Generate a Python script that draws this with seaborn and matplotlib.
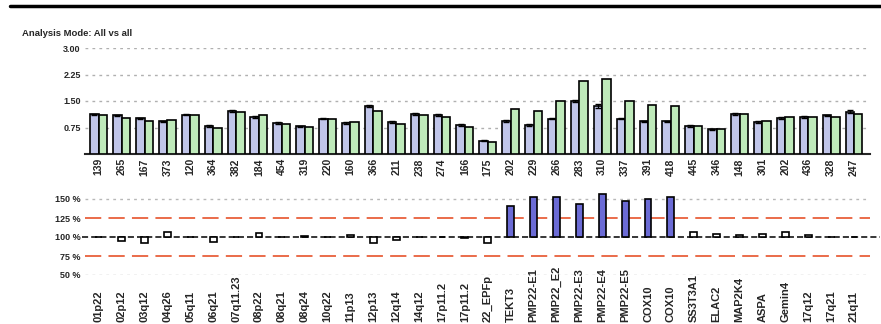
import pandas as pd
import seaborn as sns
import matplotlib.pyplot as plt
import matplotlib.transforms as mtransforms
from matplotlib.lines import Line2D

# painel superior: razoes por amostra (duas series)
amostras = ["139", "265", "167", "373", "120", "364", "382", "184", "454", "319",
            "220", "160", "366", "211", "238", "274", "166", "175", "202", "229",
            "266", "283", "310", "337", "391", "418", "445", "346", "148", "301",
            "202", "436", "328", "247"]
razao_azul = [1.12, 1.09, 1.01, 0.92, 1.11, 0.79, 1.22, 1.05, 0.88, 0.78,
              1.00, 0.88, 1.36, 0.90, 1.13, 1.10, 0.82, 0.38, 0.93, 0.82,
              1.00, 1.50, 1.36, 1.00, 0.92, 0.92, 0.79, 0.70, 1.13, 0.91,
              1.03, 1.05, 1.09, 1.20]
razao_verde = [1.11, 1.01, 0.92, 0.97, 1.09, 0.75, 1.20, 1.10, 0.86, 0.76,
               1.00, 0.90, 1.23, 0.85, 1.10, 1.06, 0.77, 0.35, 1.27, 1.23,
               1.51, 2.08, 2.12, 1.49, 1.40, 1.35, 0.80, 0.71, 1.13, 0.92,
               1.05, 1.05, 1.05, 1.13]
erro_azul = [0.02, 0.02, 0.02, 0.02, 0.02, 0.02, 0.02, 0.02, 0.02, 0.02,
             0.02, 0.02, 0.04, 0.02, 0.02, 0.02, 0.02, 0.02, 0.02, 0.02,
             0.02, 0.04, 0.06, 0.02, 0.02, 0.02, 0.02, 0.02, 0.02, 0.02,
             0.03, 0.02, 0.02, 0.04]

# painel inferior: dosagem relativa por regiao (%)
regioes = ["01p22", "02p12", "03q12", "04q26", "05q11", "06q21", "07q11.23", "08p22",
           "08q21", "08q24", "10q22", "11p13", "12p13", "12q14", "14q12", "17p11.2",
           "17p11.2", "22_EPFp", "TEKT3", "PMP22-E1", "PMP22_E2", "PMP22-E3",
           "PMP22-E4", "PMP22-E5", "COX10", "COX10", "SS3T3A1", "ELAC2", "MAP2K4",
           "ASPA", "Gemin4", "17q12", "17q21", "21q11"]
dosagem = [100, 95, 92, 107, 100, 94, 100, 105, 100, 101,
           100, 103, 92, 96, 100, 100, 99, 92, 141, 153,
           153, 144, 156, 148, 150, 153, 106, 104, 102, 104,
           106, 102, 100, 100]

sns.set_style("white")
plt.rcParams['font.family'] = ['Liberation Sans', 'DejaVu Sans']

W, H = 881, 324
fig = plt.figure(figsize=(W / 100, H / 100), dpi=100)
fig.patch.set_facecolor('white')
ax1 = fig.add_axes([85 / W, 1 - 154 / H, 785 / W, 106 / H])
ax2 = fig.add_axes([85 / W, 1 - 275 / H, 785 / W, 83.6 / H])

# --- painel superior ---
n = len(amostras)
df_sup = pd.DataFrame({
    'pos': list(range(n)) * 2,
    'serie': ['azul'] * n + ['verde'] * n,
    'razao': razao_azul + razao_verde,
})
sns.barplot(data=df_sup, x='pos', y='razao', hue='serie', ax=ax1,
            palette={'azul': '#b9c0f0', 'verde': '#b8f2b2'},
            width=0.74, edgecolor='black', linewidth=1.2,
            errorbar=None, legend=False, zorder=3)
for barra, err in zip(ax1.containers[0], erro_azul):
    xc = barra.get_x() + barra.get_width() / 2
    ax1.errorbar(xc, barra.get_height(), yerr=err, color='black',
                 capsize=2, elinewidth=0.9, capthick=1, zorder=4)

ax1.set_ylim(0, 3.0)
ax1.set_xlim(-0.6, 33.7)
ax1.set_yticks([0.75, 1.5, 2.25, 3.0])
ax1.set_yticklabels(['0.75', '1.50', '2.25', '3.00'], fontsize=6.5, fontweight='bold')
ax1.set_xticks(range(n))
ax1.set_xticklabels(amostras, rotation=90, fontsize=7.5, fontweight='bold')
ax1.tick_params(axis='both', length=0, pad=3)
ax1.yaxis.grid(True, linestyle=(0, (2, 3)), color='#b0b0b0', linewidth=1)
ax1.set_axisbelow(True)
for lado in ['top', 'right', 'left']:
    ax1.spines[lado].set_visible(False)
ax1.spines['bottom'].set_linewidth(1.5)
ax1.set_xlabel('')
ax1.set_ylabel('')

# --- painel inferior ---
df_inf = pd.DataFrame({
    'pos': list(range(n)),
    'delta': [v - 100 for v in dosagem],
    'tipo': ['alterado' if v > 120 else 'normal' for v in dosagem],
})
sns.barplot(data=df_inf, x='pos', y='delta', hue='tipo', ax=ax2,
            palette={'alterado': '#5a5ae6', 'normal': 'white'},
            dodge=False, width=0.3, bottom=100, edgecolor='black',
            linewidth=1.2, errorbar=None, legend=False, zorder=3)

ax2.set_ylim(50, 160)
ax2.set_xlim(-0.6, 33.7)
ax2.axhline(150, color='#b8b8b8', linestyle=(0, (2, 3)), linewidth=1, zorder=1)
ax2.axhline(50, color='#b8b8b8', linestyle=(0, (2, 3)), linewidth=1, zorder=1)
ax2.axhline(125, color='#e8603c', linestyle=(0, (9, 4)), linewidth=1.3, zorder=1)
ax2.axhline(75, color='#e8603c', linestyle=(0, (9, 4)), linewidth=1.3, zorder=1)
ax2.axhline(100, xmin=-0.004, xmax=1.013, color='black', linestyle=(0, (4, 2)),
            linewidth=1.1, zorder=2, clip_on=False)
ax2.set_yticks([50, 75, 100, 125, 150])
ax2.set_yticklabels(['50 %', '75 %', '100 %', '125 %', '150 %'],
                    fontsize=6.5, fontweight='bold')
ax2.tick_params(axis='y', length=0, pad=3)
ax2.set_xticks([])
for lado in ['top', 'right', 'left', 'bottom']:
    ax2.spines[lado].set_visible(False)
ax2.set_xlabel('')
ax2.set_ylabel('')

# rotulos das regioes, alinhados pela base da figura
trans = mtransforms.blended_transform_factory(ax2.transData, fig.transFigure)
for i, rotulo in enumerate(regioes):
    ax2.text(i, 0.006, rotulo, transform=trans, rotation=90, ha='center',
             va='bottom', fontsize=8, fontweight='bold', clip_on=False)

# titulo e linha superior
fig.text(22 / W, 1 - 33 / H, 'Analysis Mode: All vs all', fontsize=6.8,
         fontweight='bold', va='center', ha='left')
fig.add_artist(Line2D([10 / W, 1.0], [1 - 5.5 / H, 1 - 5.5 / H], color='black',
                      linewidth=2.5, transform=fig.transFigure))

fig.savefig('out.png', dpi=100)
